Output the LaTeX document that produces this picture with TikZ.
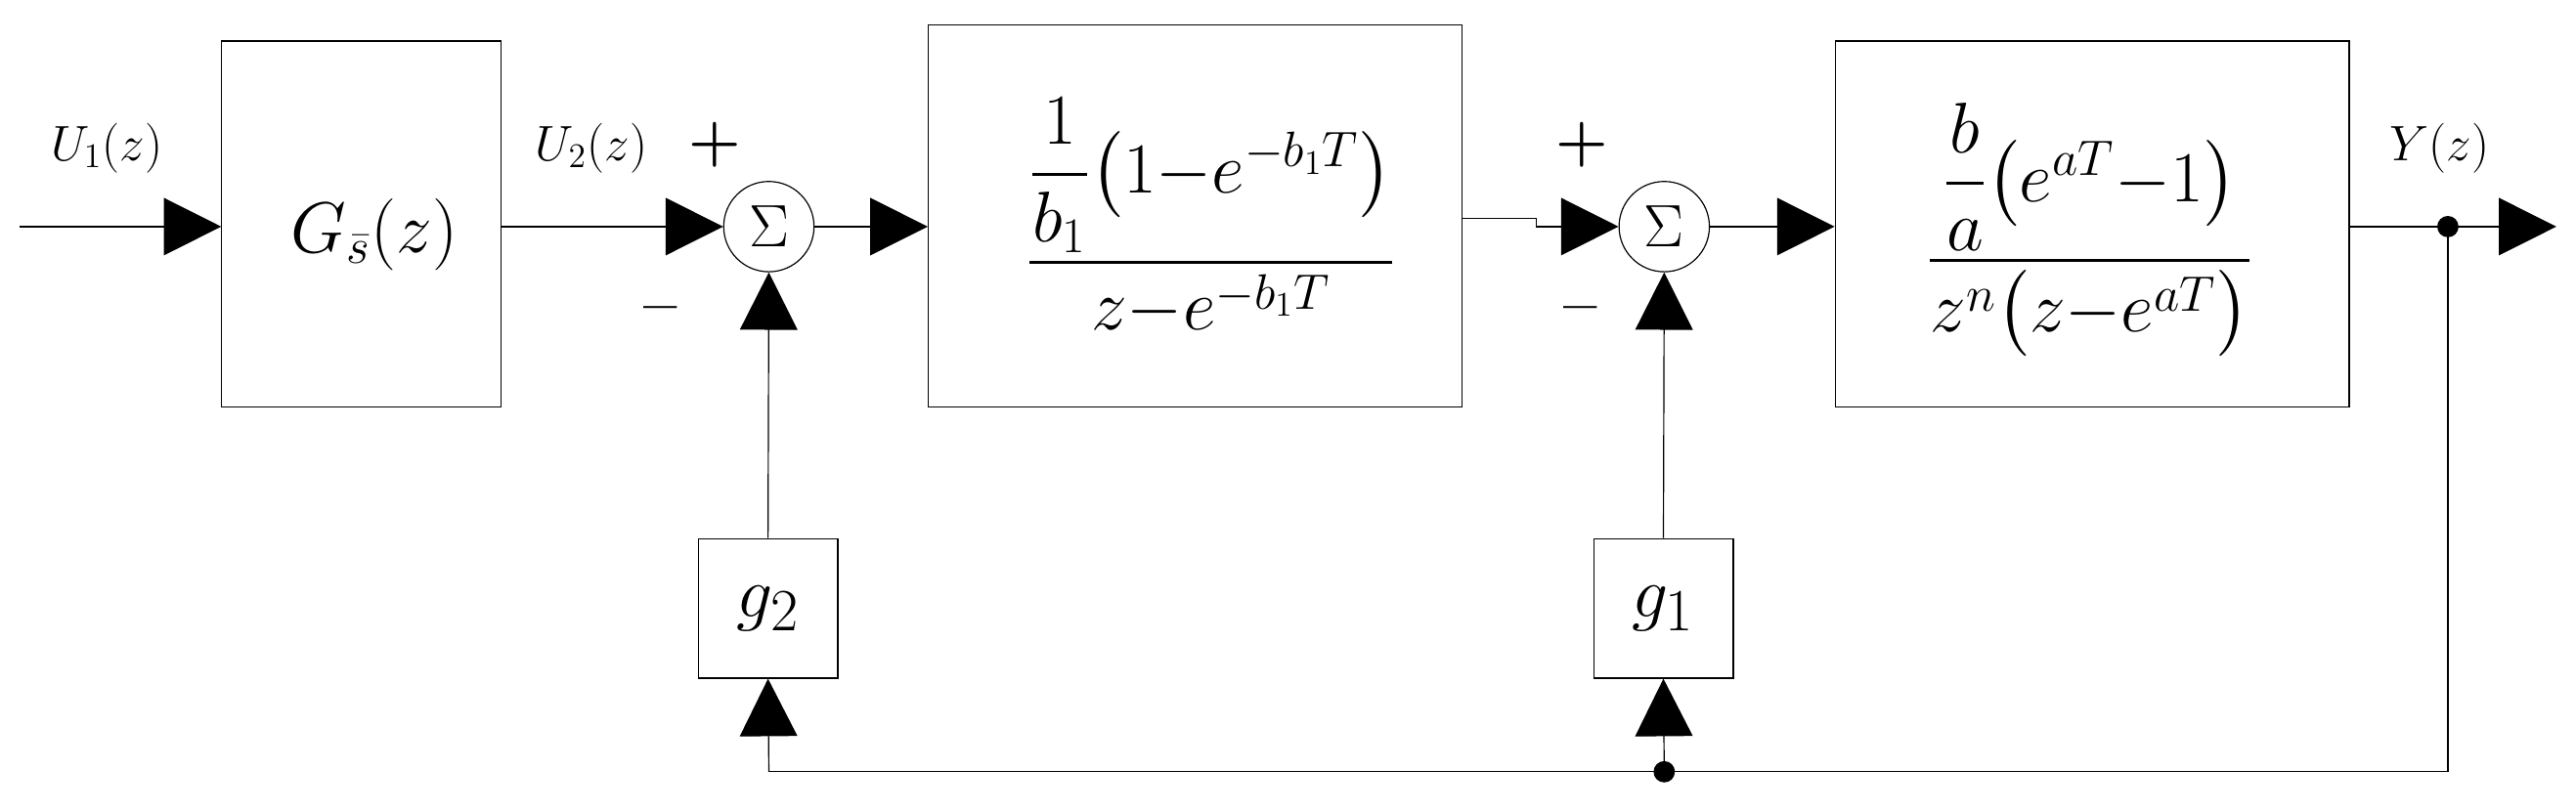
\documentclass[tikz,border=0pt]{standalone}
\usepackage{amsmath}
\usetikzlibrary{arrows.meta}
\begin{document}
\begin{tikzpicture}[x=0.02cm,y=-0.02cm,
  blk/.style={draw,line width=0.4pt,inner sep=0},
  sum/.style={draw,circle,minimum size=1.1cm,inner sep=0,font=\huge},
  ar/.style={-{Triangle[length=0.7cm,width=0.7cm]}},
  lbl/.style={font=\LARGE},
  sg/.style={font=\huge\bfseries}]
\useasboundingbox (0,0) rectangle (1568,494);
\node[blk,minimum width=3.4cm,minimum height=4.46cm] (b1) at (220,136.5) {};
\node[font=\fontsize{26}{30}\selectfont] at (228,143) {$G_{\bar s}(z)$};
\node[blk,minimum width=6.5cm,minimum height=4.66cm] (b2) at (727.5,131.5) {};
\node[font=\fontsize{24}{28}\selectfont] at (737,132) {$\dfrac{\dfrac{1}{b_1}\bigl(1{-}e^{-b_1T}\bigr)}{z{-}e^{-b_1T}}$};
\node[blk,minimum width=6.26cm,minimum height=4.46cm] (b3) at (1273.5,136.5) {};
\node[font=\fontsize{24}{28}\selectfont] at (1272,140) {$\dfrac{\dfrac{b}{a}\bigl(e^{aT}{-}1\bigr)}{z^n\bigl(z{-}e^{aT}\bigr)}$};
\node[sum] (s1) at (468,138) {$\Sigma$};
\node[sum] (s2) at (1013,138) {$\Sigma$};
\node[blk,minimum width=1.7cm,minimum height=1.7cm,font=\fontsize{28}{32}\selectfont] (g2) at (467.5,370.5) {$g_2$};
\node[blk,minimum width=1.7cm,minimum height=1.7cm,font=\fontsize{28}{32}\selectfont] (g1) at (1012.5,370.5) {$g_1$};
\coordinate (in) at (12,138);
\coordinate (out) at (1556,138);
\coordinate (d1) at (1490,138);
\coordinate (c1) at (1490,470);
\coordinate (d2) at (1013,470);
\coordinate (c2) at (468,470);
\coordinate (j1) at (935,133);
\coordinate (j2) at (935,138);
\draw[ar] (in) -- (b1.west|-in);
\draw[ar] (b1.east|-s1) -- (s1.west);
\draw[ar] (s1.east) -- (b2.west|-s1);
\draw (b2.east|-j1) -- (j1) -- (j2);
\draw[ar] (j2) -- (s2.west);
\draw[ar] (s2.east) -- (b3.west|-s2);
\draw[ar] (b3.east|-out) -- (out);
\draw (d1) -- (c1) -- (c2);
\draw[ar] (c2) -- (g2.south);
\draw[ar] (d2) -- (g1.south);
\draw[ar] (g2.north) -- (s1.south);
\draw[ar] (g1.north) -- (s2.south);
\fill (d1) circle (0.13cm);
\fill (d2) circle (0.13cm);
\node[lbl] at (65,90) {$U_1(z)$};
\node[lbl] at (360,90) {$U_2(z)$};
\node[lbl] at (1485,90) {$Y(z)$};
\node[sg] at (435,88) {+};
\node[sg] at (963,88) {+};
\node[sg] at (402,192) {--};
\node[sg] at (962,192) {--};
\end{tikzpicture}
\end{document}
